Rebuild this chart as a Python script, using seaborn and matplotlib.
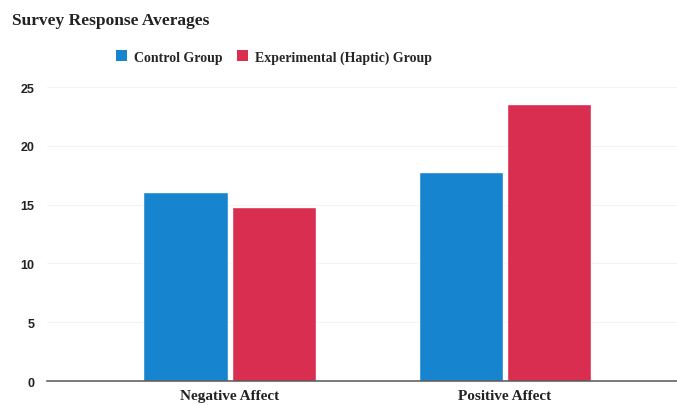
import matplotlib
matplotlib.use("Agg")
import matplotlib.pyplot as plt
import seaborn as sns
import pandas as pd
from matplotlib.patches import Patch

categories = ["Negative Affect", "Positive Affect"]
groups = ["Control Group", "Experimental (Haptic) Group"]
control_values = [16.1, 17.8]
experimental_values = [14.8, 23.6]
y_ticks = [0, 5, 10, 15, 20, 25]

colors = {"Control Group": "#1784d0", "Experimental (Haptic) Group": "#d92e50"}

df = pd.DataFrame({
    "category": categories * 2,
    "group": [groups[0]] * 2 + [groups[1]] * 2,
    "value": control_values + experimental_values,
})

sns.set_theme(style="white")
plt.rcParams["font.family"] = ["Liberation Serif", "DejaVu Serif"]

fig = plt.figure(figsize=(6.77, 4.06), dpi=100)
ax = fig.add_axes([0.069, 0.059, 0.931, 0.724])

sns.barplot(data=df, x="category", y="value", hue="group", order=categories,
            hue_order=groups, palette=colors, width=0.64, gap=0.04,
            saturation=1, legend=False, ax=ax)

ax.set_xlim(-0.665, 1.625)
ax.set_ylim(0, 25)
ax.set_yticks(y_ticks)
ax.set_yticklabels([str(t) for t in y_ticks], fontfamily="Liberation Sans",
                   fontweight="bold", fontsize=9, color="#222222")
ax.set_xticks([0, 1])
ax.set_xticklabels(categories, fontweight="bold", fontsize=11, color="#222222")
ax.tick_params(axis="y", length=0, pad=9)
ax.tick_params(axis="x", length=0, pad=6)
ax.set_xlabel("")
ax.set_ylabel("")

ax.grid(axis="y", color="#f3f3f3", linewidth=0.8)
ax.set_axisbelow(True)
for side in ["top", "right", "left"]:
    ax.spines[side].set_visible(False)
ax.spines["bottom"].set_color("#555555")
ax.spines["bottom"].set_linewidth(1.1)

fig.text(0.018, 0.948, "Survey Response Averages", fontsize=12.5,
         fontweight="bold", color="#222222", ha="left", va="center")

handles = [Patch(facecolor=colors[g], edgecolor="none", label=g) for g in groups]
fig.legend(handles=handles, loc="center", bbox_to_anchor=(0.405, 0.857), ncol=2,
           frameon=False, prop={"weight": "bold", "size": 10},
           handlelength=0.8, handleheight=0.8, handletextpad=0.5,
           columnspacing=1.0)

fig.savefig("out.png", dpi=100)
